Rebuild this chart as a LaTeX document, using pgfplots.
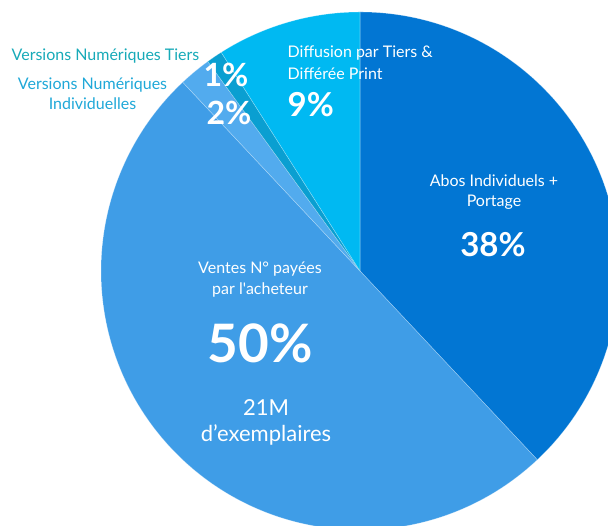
\documentclass[border=0pt]{standalone}
\usepackage{fontspec}
\setmainfont{Lato}
\usepackage{pgfplots}
\usepackage{pgfplotstable}
\pgfplotsset{compat=1.18}
\definecolor{cAbos}{HTML}{0276D3}
\definecolor{cVentes}{HTML}{3F9DE7}
\definecolor{cVNI}{HTML}{52ABEE}
\definecolor{cVNT}{HTML}{0A9FD1}
\definecolor{cDiff}{HTML}{00B9F2}
\definecolor{cLblT}{HTML}{17AAB8}
\definecolor{cLblI}{HTML}{1FA8D8}
% 1 px of the reference = 0.01 cm = 0.28453 pt
\newcommand\fpx[1]{\pgfmathsetmacro\tmpfs{#1*0.28453}\fontsize{\tmpfs pt}{\tmpfs pt}\selectfont}
\pgfplotstableread{
value color
38 cAbos
50 cVentes
2 cVNI
1 cVNT
9 cDiff
}\piedata
\begin{document}
\begin{tikzpicture}
\begin{axis}[x=1cm,y=1cm,xmin=0,xmax=6.08,ymin=-5.26,ymax=0,
  hide axis, clip=true, scale only axis]
 \def\cx{3.60}\def\cy{-2.71}\def\r{2.59}
 \pgfplotstablegetrowsof{\piedata}\pgfmathtruncatemacro\N{\pgfplotsretval-1}
 \def\acc{90}
 \pgfplotsforeachungrouped \i in {0,...,\N}{%
   \pgfplotstablegetelem{\i}{value}\of\piedata \let\v\pgfplotsretval
   \pgfplotstablegetelem{\i}{color}\of\piedata \let\c\pgfplotsretval
   \pgfmathsetmacro\aend{\acc-3.6*\v}%
   \edef\tmp{\noexpand\filldraw[fill=\c,draw=white,draw opacity=0.35,line width=0.15pt] (axis cs:\cx,\cy) -- (axis cs:{\cx+\r*cos(\acc)},{\cy+\r*sin(\acc)}) arc[start angle=\acc, end angle=\aend, radius=\r] -- cycle;}%
   \tmp
   \global\let\acc\aend
 }
 % outside labels
 \node[anchor=base,text=cLblT,font=\fpx{16}] at (axis cs:1.055,-0.61) {Versions Numériques Tiers};
 \node[anchor=base,text=cLblI,font=\fpx{16}] at (axis cs:0.925,-0.90) {Versions Numériques};
 \node[anchor=base,text=cLblI,font=\fpx{16}] at (axis cs:0.925,-1.10) {Individuelles};
 % small slices
 \node[anchor=base,text=white,font=\fpx{32}\bfseries] at (axis cs:2.26,-0.87) {1\%};
 \node[anchor=base,text=white,font=\fpx{32}\bfseries] at (axis cs:2.29,-1.25) {2\%};
 % diffusion
 \node[anchor=base west,inner xsep=0pt,text=white,font=\fpx{16}] at (axis cs:2.87,-0.58) {Diffusion par Tiers \&};
 \node[anchor=base west,inner xsep=0pt,text=white,font=\fpx{16}] at (axis cs:2.87,-0.80) {Différée Print};
 \node[anchor=base west,inner xsep=0pt,text=white,font=\fpx{33}\bfseries] at (axis cs:2.87,-1.17) {9\%};
 % abos
 \node[anchor=base,text=white,font=\fpx{16}] at (axis cs:4.94,-1.87) {Abos Individuels +};
 \node[anchor=base,text=white,font=\fpx{16}] at (axis cs:4.94,-2.07) {Portage};
 \node[anchor=base,text=white,font=\fpx{33}\bfseries] at (axis cs:4.93,-2.57) {38\%};
 % ventes
 \node[anchor=base,text=white,font=\fpx{16}] at (axis cs:2.60,-2.74) {Ventes N° payées};
 \node[anchor=base,text=white,font=\fpx{16}] at (axis cs:2.60,-2.95) {par l\textquotesingle acheteur};
 \node[anchor=base,text=white,font=\fpx{53}\bfseries] at (axis cs:2.60,-3.63) {50\%};
 \node[anchor=base,text=white,font=\fpx{22}] at (axis cs:2.66,-4.16) {21M};
 \node[anchor=base,text=white,font=\fpx{22}] at (axis cs:2.66,-4.42) {d’exemplaires};
 \coordinate (BL) at (axis cs:0,-5.26);
 \coordinate (TR) at (axis cs:6.08,0);
\end{axis}
\pgfresetboundingbox
\useasboundingbox (BL) rectangle (TR);
\end{tikzpicture}
\end{document}
